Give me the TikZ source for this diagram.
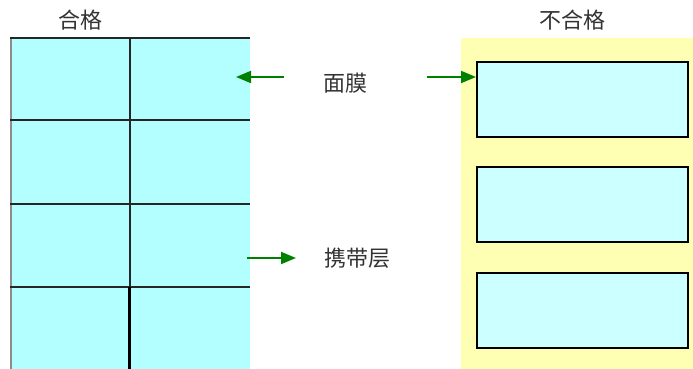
\documentclass[tikz,border=0pt]{standalone}
\usepackage{fontspec}
\newfontfamily\cjk{Noto Sans CJK SC}
\usetikzlibrary{arrows.meta}
\definecolor{panelcyan}{HTML}{B3FFFF}
\definecolor{boxcyan}{HTML}{CCFFFF}
\definecolor{panelyellow}{HTML}{FFFFB3}
\definecolor{arrowgreen}{HTML}{008000}
\definecolor{txtgray}{HTML}{333333}
\tikzset{
  lbl/.style={font=\cjk\fontsize{22pt}{24pt}\selectfont, text=txtgray, inner sep=0pt},
  gridline/.style={line width=2.2pt, draw=black!85},
  badbox/.style={draw=black, line width=2pt, fill=boxcyan},
  greenarrow/.style={draw=arrowgreen, line width=1.8pt, -{Triangle[length=15pt,width=12pt]}, arrowgreen}
}
\begin{document}
\begin{tikzpicture}[x=1pt,y=-1pt]
\useasboundingbox (0,0) rectangle (693,369);
% left panel (pass)
\fill[panelcyan] (10,37) rectangle (250,369);
\draw[line width=2pt, draw=black!45] (11,37) -- (11,369);
\draw[gridline] (10,38) -- (250,38);
\draw[gridline] (10,120) -- (250,120);
\draw[gridline] (10,204) -- (250,204);
\draw[gridline] (10,287) -- (250,287);
\draw[gridline] (130,37) -- (130,287);
\draw[gridline, draw=black] (129.5,287) -- (129.5,369);
% right panel (fail)
\fill[panelyellow] (461,38) rectangle (693,369);
\node[badbox, minimum width=211pt, minimum height=75pt, anchor=north west, inner sep=0pt] (b1) at (476,61) {};
\node[badbox, minimum width=211pt, minimum height=75pt, anchor=north west, inner sep=0pt] (b2) at (476,166) {};
\node[badbox, minimum width=211pt, minimum height=75pt, anchor=north west, inner sep=0pt] (b3) at (476,272) {};
% labels
\node[lbl] (pass) at (80,20) {合格};
\node[lbl] (fail) at (572,20) {不合格};
\node[lbl] (mask) at (345,83) {面膜};
\node[lbl] (carrier) at (357,258) {携带层};
% arrows
\coordinate (m1s) at (284,77);
\coordinate (m1e) at (236,77);
\coordinate (m2s) at (427,77);
\coordinate (c1s) at (247,258);
\coordinate (c1e) at (296,258);
\draw[greenarrow] (m1s) -- (m1e);
\draw[greenarrow] (m2s) -- (b1.west |- m2s);
\draw[greenarrow] (c1s) -- (c1e);
\end{tikzpicture}
\end{document}
